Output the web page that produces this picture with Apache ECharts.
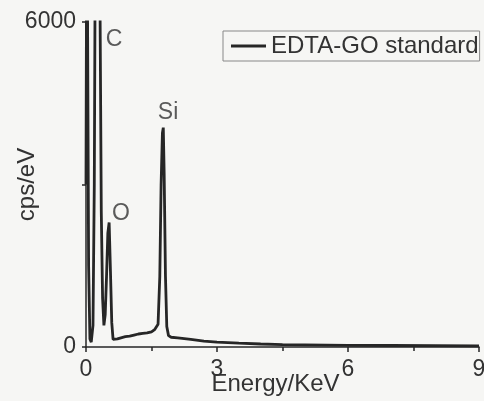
<!DOCTYPE html>
<html>
<head>
<meta charset="utf-8">
<script src="https://cdn.jsdelivr.net/npm/echarts@6/dist/echarts.min.js"></script>
<style>
  html, body { margin: 0; padding: 0; background: #f6f6f4; }
  #panel { width: 484px; height: 401px; }
</style>
</head>
<body>
<div id="panel"></div>
<script>
// EDS spectrum (keV, cps/eV)
var energy = [0.00, 0.02, 0.04, 0.06, 0.09, 0.12, 0.16, 0.19, 0.22, 0.27, 0.32, 0.35, 0.38, 0.41, 0.44,
              0.47, 0.50, 0.53, 0.56, 0.59, 0.62, 0.66, 0.72, 0.80, 0.90, 1.00, 1.10, 1.20, 1.30, 1.40,
              1.50, 1.57, 1.61, 1.65, 1.69, 1.72, 1.75, 1.77, 1.79, 1.82, 1.85, 1.89, 1.95, 2.10, 2.40,
              2.70, 3.00, 3.50, 4.00, 4.50, 5.00, 5.50, 6.00, 7.00, 8.00, 9.00];
var counts = [3000, 9000, 9000, 1500, 150, 90, 400, 3000, 9000, 15000, 6500, 2500, 900, 400, 600,
              1300, 2100, 2300, 1400, 450, 140, 130, 150, 170, 190, 200, 220, 240, 250, 260,
              280, 320, 300, 420, 1300, 3000, 3950, 4050, 3200, 1300, 380, 210, 180, 170, 140,
              110, 90, 70, 55, 45, 40, 35, 30, 28, 25, 22];

var seriesName = 'EDTA-GO standard';
var xTicks = [0, 3, 6, 9];
var yTicks = [0, 6000];

// peak annotations (keV, cps/eV of label centre)
var peakNames = ['C', 'O', 'Si'];
var peakX = [0.64, 0.80, 1.88];
var peakY = [5680, 2470, 4330];

var ink = '#262626';
var font = 'Liberation Sans, Arial, sans-serif';

var points = energy.map(function (e, i) { return [e, counts[i]]; });
var labels = peakNames.map(function (n, i) { return { name: n, value: [peakX[i], peakY[i]] }; });

var myChart = echarts.init(document.getElementById('panel'));
myChart.setOption({
    backgroundColor: '#f6f6f4',
    animation: false,
    textStyle: { fontFamily: font },
    grid: { left: 86, right: 5, top: 22, bottom: 54, containLabel: false, outerBoundsMode: 'none' },
    legend: {
        data: [seriesName],
        left: 223, top: 31,
        padding: [3, 1, 3, 8],
        itemWidth: 35, itemHeight: 3,
        icon: 'rect',
        borderColor: '#888', borderWidth: 1,
        textStyle: { fontSize: 24, color: '#333', fontFamily: font }
    },
    xAxis: {
        type: 'value', min: 0, max: 9, interval: 3,
        name: 'Energy/KeV', nameLocation: 'middle', nameGap: 25, nameMoveOverlap: false,
        nameTextStyle: { fontSize: 24, color: '#333', padding: [0, 14, 0, 0] },
        axisLine: { lineStyle: { color: ink, width: 1.5 } },
        axisTick: { length: 5, lineStyle: { color: ink, width: 1.5 } },
        minorTick: { show: true, splitNumber: 2, length: 4, lineStyle: { color: ink, width: 1.5 } },
        axisLabel: { fontSize: 23, color: '#333', margin: 11,
            formatter: function (v) { return xTicks.indexOf(v) >= 0 ? String(v) : ''; } },
        splitLine: { show: false }
    },
    yAxis: {
        type: 'value', min: 0, max: 6000, interval: 3000,
        name: 'cps/eV', nameLocation: 'middle', nameGap: 47, nameMoveOverlap: false,
        nameTextStyle: { fontSize: 24, color: '#333' },
        axisLine: { show: true, lineStyle: { color: ink, width: 1.5 } },
        axisTick: { show: true, length: 4, lineStyle: { color: ink, width: 1.5 } },
        axisLabel: { fontSize: 23, color: '#333', margin: 10,
            formatter: function (v) { return yTicks.indexOf(v) >= 0 ? String(v) : ''; } },
        splitLine: { show: false }
    },
    series: [{
        name: seriesName,
        type: 'line',
        data: points,
        showSymbol: false,
        clip: true,
        color: ink,
        lineStyle: { color: ink, width: 2.8 }
    }, {
        type: 'scatter',
        data: labels,
        symbolSize: 0,
        silent: true,
        label: {
            show: true, position: 'inside',
            formatter: '{b}', fontSize: 23, color: '#333', fontFamily: font
        }
    }]
});
</script>
</body>
</html>
